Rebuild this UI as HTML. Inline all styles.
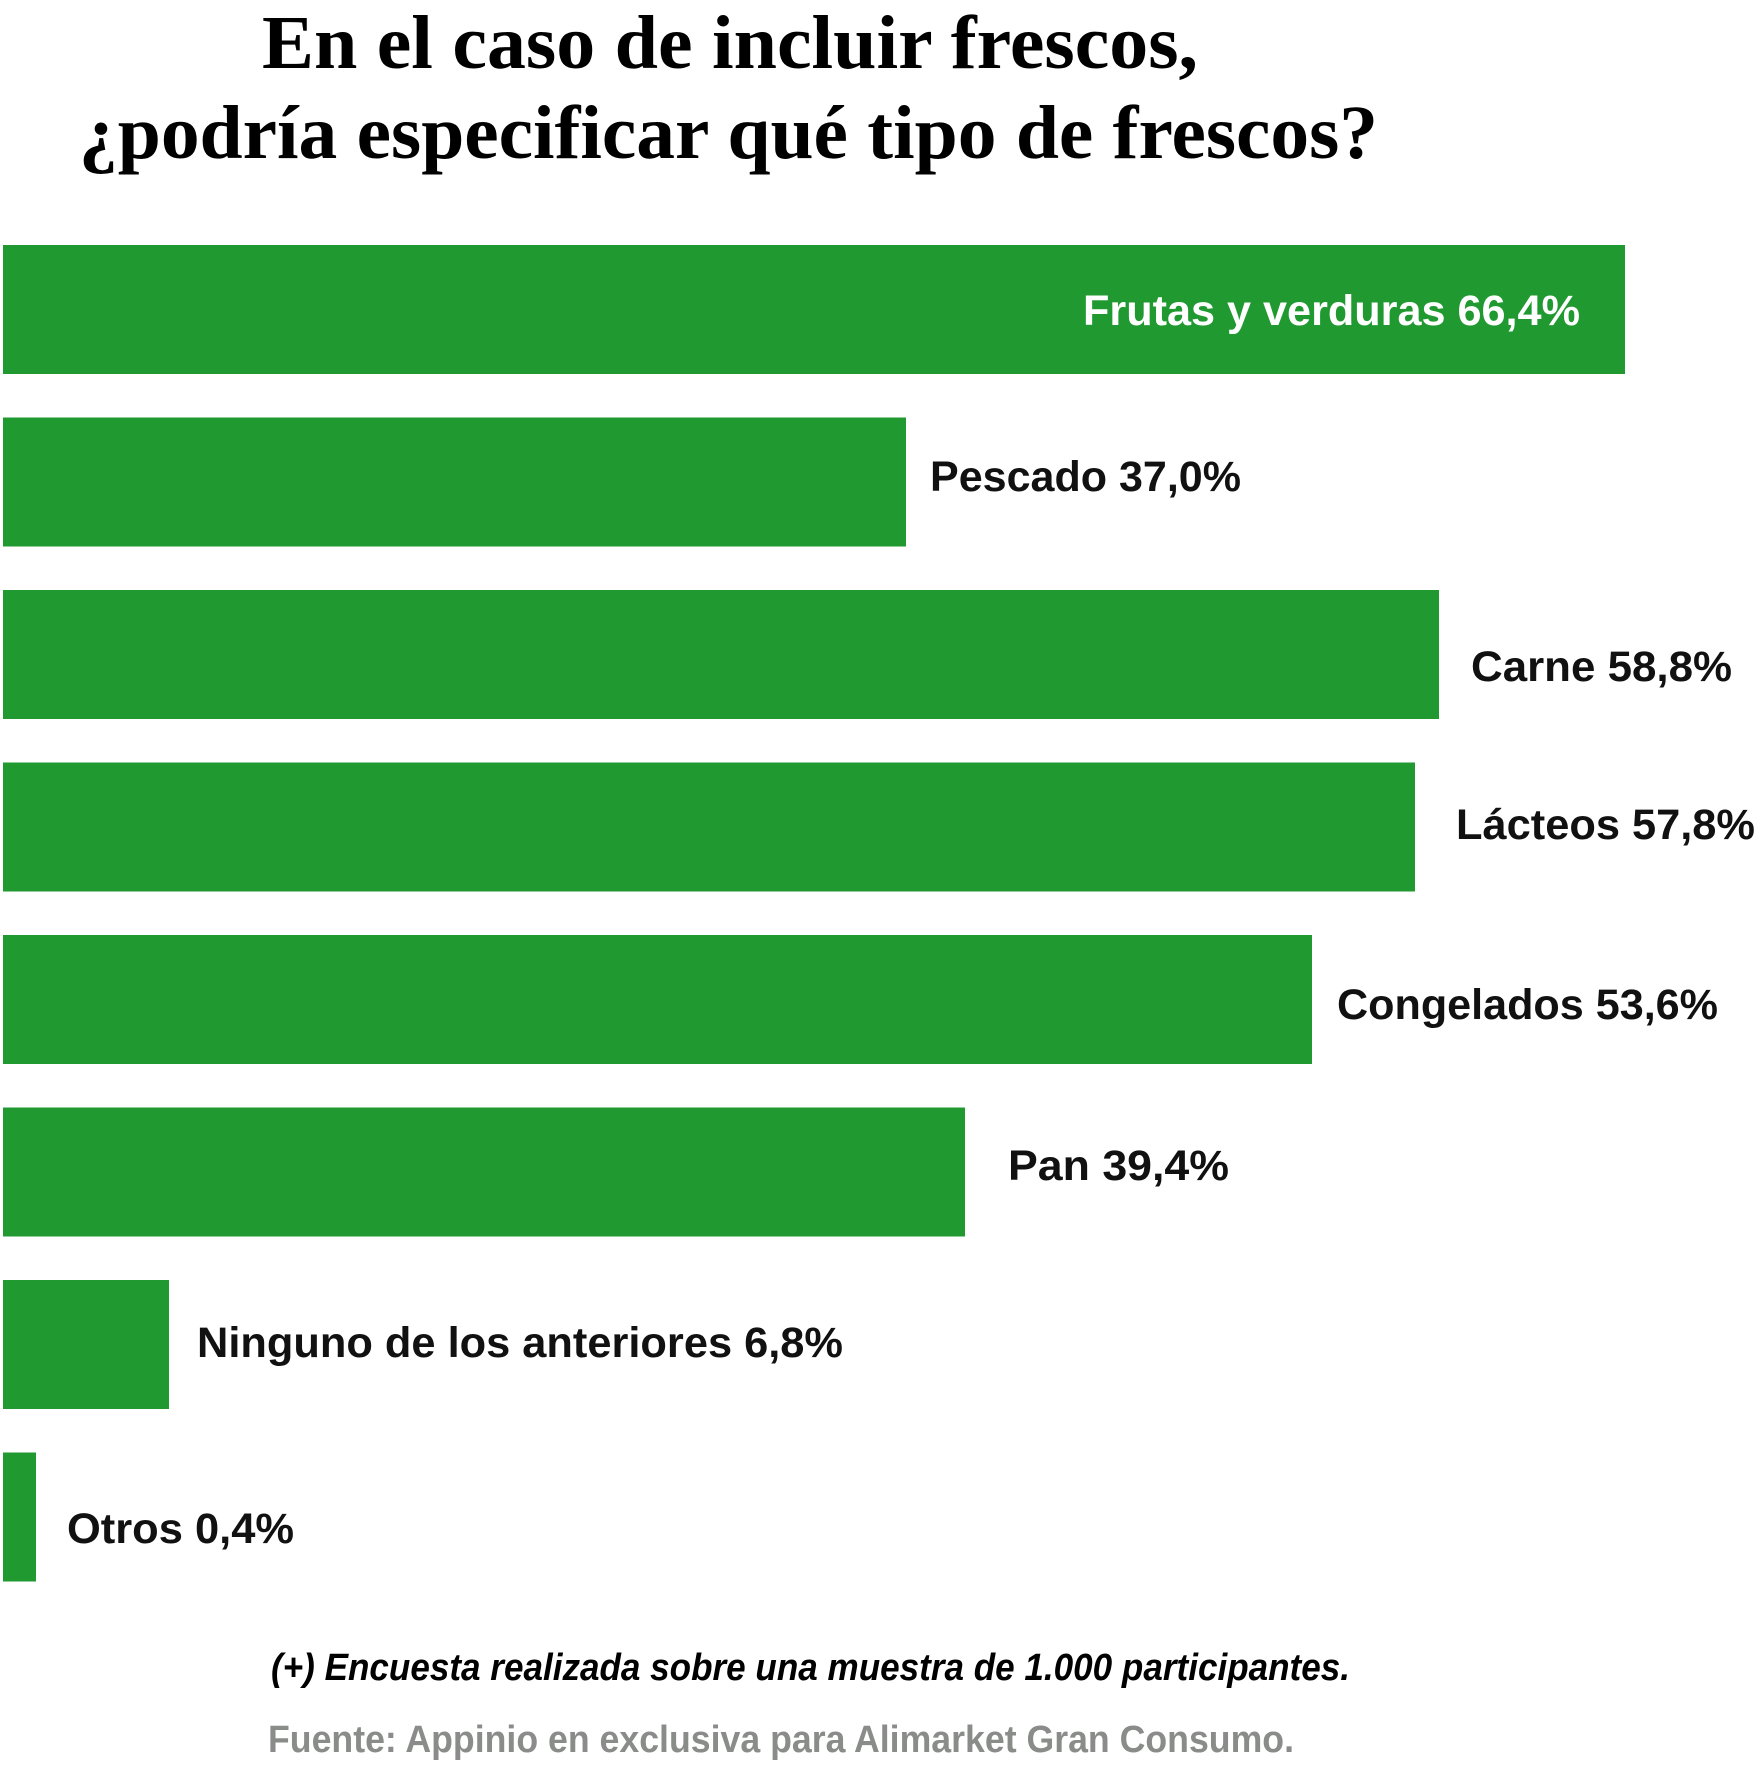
<!DOCTYPE html>
<html><head><meta charset="utf-8"><style>
html,body{margin:0;padding:0;background:#fff;}
svg{display:block;}
.t{font-family:"Liberation Serif",serif;font-weight:bold;font-size:76px;fill:#000;}
.l{font-family:"Liberation Sans",sans-serif;font-weight:bold;font-size:43px;fill:#111;}
.f{font-family:"Liberation Sans Narrow","Liberation Sans",sans-serif;font-weight:bold;font-size:38px;}
</style></head><body>
<svg width="1760" height="1766" viewBox="0 0 1760 1766" xmlns="http://www.w3.org/2000/svg">
<text class="t" x="262" y="68" textLength="936" lengthAdjust="spacingAndGlyphs">En el caso de incluir frescos,</text>
<text class="t" x="79" y="158" textLength="1299" lengthAdjust="spacingAndGlyphs">¿podría especificar qué tipo de frescos?</text>
<g fill="#209931">
<rect x="3" y="245" width="1622" height="129"/>
<rect x="3" y="417.5" width="903" height="129"/>
<rect x="3" y="590" width="1436" height="129"/>
<rect x="3" y="762.5" width="1412" height="129"/>
<rect x="3" y="935" width="1309" height="129"/>
<rect x="3" y="1107.5" width="962" height="129"/>
<rect x="3" y="1280" width="166" height="129"/>
<rect x="3" y="1452.5" width="33" height="129"/>
</g>
<text class="l" x="1083" y="325" fill="#fff" style="fill:#fff" textLength="497" lengthAdjust="spacingAndGlyphs">Frutas y verduras 66,4%</text>
<text class="l" x="930" y="491" textLength="311" lengthAdjust="spacingAndGlyphs">Pescado 37,0%</text>
<text class="l" x="1471" y="681" textLength="261" lengthAdjust="spacingAndGlyphs">Carne 58,8%</text>
<text class="l" x="1456" y="839" textLength="299" lengthAdjust="spacingAndGlyphs">Lácteos 57,8%</text>
<text class="l" x="1337" y="1019" textLength="381" lengthAdjust="spacingAndGlyphs">Congelados 53,6%</text>
<text class="l" x="1008" y="1180" textLength="221" lengthAdjust="spacingAndGlyphs">Pan 39,4%</text>
<text class="l" x="197" y="1357" textLength="646" lengthAdjust="spacingAndGlyphs">Ninguno de los anteriores 6,8%</text>
<text class="l" x="67" y="1543" textLength="227" lengthAdjust="spacingAndGlyphs">Otros 0,4%</text>
<text class="f" x="271" y="1680" fill="#000" font-style="italic" textLength="1079" lengthAdjust="spacingAndGlyphs">(+) Encuesta realizada sobre una muestra de 1.000 participantes.</text>
<text class="f" x="268" y="1752" fill="#8a8c8a" textLength="1026" lengthAdjust="spacingAndGlyphs">Fuente: Appinio en exclusiva para Alimarket Gran Consumo.</text>
</svg>
</body></html>
